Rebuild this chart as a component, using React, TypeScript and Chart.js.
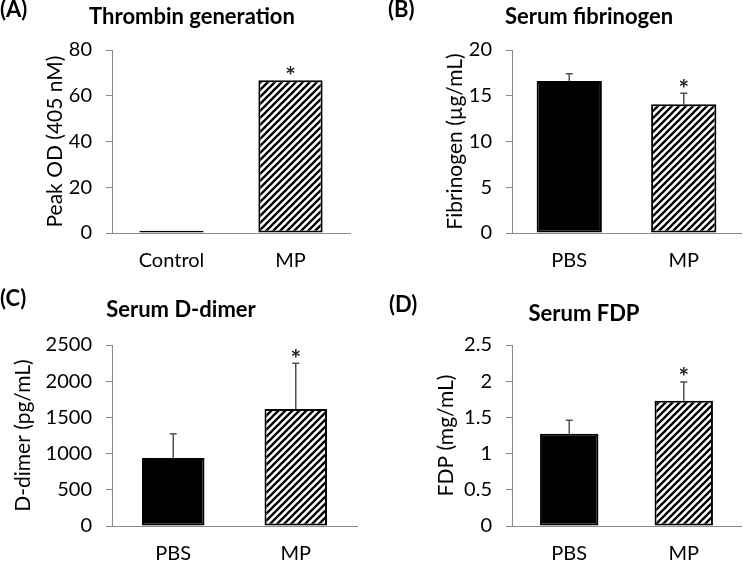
import React, { useEffect, useRef } from 'react';
import { Chart, registerables } from 'chart.js';

Chart.register(...registerables);

// ---------- Data ----------
// (A) Thrombin generation
const thrombinCategories = ['Control', 'MP'];
const thrombinValues = [1.0, 66.8];
const thrombinErrors = [0, 0];
const thrombinMarks = ['', '*'];
const thrombinTicks = [0, 20, 40, 60, 80];

// (B) Serum fibrinogen
const fibrinogenCategories = ['PBS', 'MP'];
const fibrinogenValues = [16.6, 14.07];
const fibrinogenErrors = [0.8, 1.2];
const fibrinogenMarks = ['', '*'];
const fibrinogenTicks = [0, 5, 10, 15, 20];

// (C) Serum D-dimer
const ddimerCategories = ['PBS', 'MP'];
const ddimerValues = [940, 1615];
const ddimerErrors = [335, 633];
const ddimerMarks = ['', '*'];
const ddimerTicks = [0, 500, 1000, 1500, 2000, 2500];

// (D) Serum FDP
const fdpCategories = ['PBS', 'MP'];
const fdpValues = [1.275, 1.73];
const fdpErrors = [0.185, 0.26];
const fdpMarks = ['', '*'];
const fdpTicks = [0, 0.5, 1, 1.5, 2, 2.5];

// ---------- Styling ----------
const FONT = 'Lato, "Open Sans", sans-serif';
const AXIS = '#8a8a8a';
const TEXT = '#000';

type Spec = {
  letter: string;
  title: string;
  yTitle: string;
  categories: string[];
  values: number[];
  errors: number[];
  marks: string[];
  ticks: number[];
  box: { x: number; y: number; w: number; h: number };
  area: { left: number; right: number; top: number; bottom: number };
  barFrac: number;
  letterPos: { x: number; y: number };
  titlePos: { x: number; y: number };
  yTitlePad: number;
};

const specs: Spec[] = [
  {
    letter: '(A)', title: 'Thrombin generation', yTitle: 'Peak OD (405 nM)',
    categories: thrombinCategories, values: thrombinValues, errors: thrombinErrors, marks: thrombinMarks, ticks: thrombinTicks,
    box: { x: 0, y: 0, w: 372, h: 283 },
    area: { left: 112, right: 350, top: 50, bottom: 233 },
    barFrac: 0.54,
    letterPos: { x: 0, y: 17 }, titlePos: { x: 192, y: 24 }, yTitlePad: 43,
  },
  {
    letter: '(B)', title: 'Serum fibrinogen', yTitle: 'Fibrinogen (µg/mL)',
    categories: fibrinogenCategories, values: fibrinogenValues, errors: fibrinogenErrors, marks: fibrinogenMarks, ticks: fibrinogenTicks,
    box: { x: 372, y: 0, w: 371, h: 283 },
    area: { left: 140, right: 369, top: 50, bottom: 233 },
    barFrac: 0.57,
    letterPos: { x: 16, y: 17 }, titlePos: { x: 217, y: 24 }, yTitlePad: 71,
  },
  {
    letter: '(C)', title: 'Serum D-dimer', yTitle: 'D-dimer (pg/mL)',
    categories: ddimerCategories, values: ddimerValues, errors: ddimerErrors, marks: ddimerMarks, ticks: ddimerTicks,
    box: { x: 0, y: 283, w: 372, h: 283 },
    area: { left: 112, right: 357, top: 62, bottom: 243 },
    barFrac: 0.51,
    letterPos: { x: 0, y: 23 }, titlePos: { x: 181, y: 34 }, yTitlePad: 11,
  },
  {
    letter: '(D)', title: 'Serum FDP', yTitle: 'FDP (mg/mL)',
    categories: fdpCategories, values: fdpValues, errors: fdpErrors, marks: fdpMarks, ticks: fdpTicks,
    box: { x: 372, y: 283, w: 371, h: 283 },
    area: { left: 140, right: 369, top: 62, bottom: 243 },
    barFrac: 0.51,
    letterPos: { x: 17, y: 29 }, titlePos: { x: 212, y: 38 }, yTitlePad: 62,
  },
];

function makeHatch(): CanvasPattern | string {
  const s = 7;
  const c = document.createElement('canvas');
  c.width = s;
  c.height = s;
  const g = c.getContext('2d');
  if (!g) return '#000';
  g.fillStyle = '#fff';
  g.fillRect(0, 0, s, s);
  g.strokeStyle = '#000';
  g.lineWidth = 2.3;
  g.beginPath();
  g.moveTo(-1, 1); g.lineTo(1, -1);
  g.moveTo(0, s); g.lineTo(s, 0);
  g.moveTo(s - 1, s + 1); g.lineTo(s + 1, s - 1);
  g.stroke();
  const p = g.createPattern(c, 'repeat');
  return p || '#000';
}

function Panel({ spec }: { spec: Spec }) {
  const ref = useRef<HTMLCanvasElement | null>(null);

  useEffect(() => {
    const canvas = ref.current;
    if (!canvas) return;
    const hatch = makeHatch();
    const { area, box } = spec;

    const annot = {
      id: 'annot',
      afterDatasetsDraw(chart: any) {
        const ctx = chart.ctx as CanvasRenderingContext2D;
        const meta = chart.getDatasetMeta(0);
        const yScale = chart.scales.y;
        ctx.save();
        meta.data.forEach((bar: any, i: number) => {
          const v = spec.values[i];
          const e = spec.errors[i];
          let topY = bar.y;
          if (e > 0) {
            const yTop = yScale.getPixelForValue(v + e);
            ctx.strokeStyle = '#505050';
            ctx.lineWidth = 1.5;
            ctx.beginPath();
            ctx.moveTo(bar.x, bar.y);
            ctx.lineTo(bar.x, yTop);
            ctx.moveTo(bar.x - 3.5, yTop);
            ctx.lineTo(bar.x + 3.5, yTop);
            ctx.stroke();
            topY = yTop;
          }
          const m = spec.marks[i];
          if (m) {
            ctx.font = `bold 25px ${FONT}`;
            ctx.fillStyle = '#222';
            ctx.textAlign = 'center';
            ctx.textBaseline = 'alphabetic';
            const mt = ctx.measureText(m);
            const cy = topY - 10;
            ctx.fillText(m, bar.x, cy + (mt.actualBoundingBoxAscent - mt.actualBoundingBoxDescent) / 2);
          }
        });
        ctx.restore();
      },
      afterDraw(chart: any) {
        const ctx = chart.ctx as CanvasRenderingContext2D;
        ctx.save();
        ctx.fillStyle = '#000';
        ctx.textBaseline = 'alphabetic';
        ctx.font = `bold 22px ${FONT}`;
        ctx.textAlign = 'left';
        ctx.fillText(spec.letter, spec.letterPos.x, spec.letterPos.y);
        ctx.textAlign = 'center';
        ctx.fillText(spec.title, spec.titlePos.x, spec.titlePos.y);
        ctx.restore();
      },
    };

    const ticks = spec.ticks;
    const chart = new Chart(canvas, {
      type: 'bar',
      data: {
        labels: spec.categories,
        datasets: [
          {
            data: spec.values,
            backgroundColor: ['#000', hatch as any],
            borderColor: '#000',
            borderWidth: 2,
            borderSkipped: false,
            categoryPercentage: 1,
            barPercentage: spec.barFrac,
          },
        ],
      },
      options: {
        animation: false,
        responsive: false,
        maintainAspectRatio: false,
        devicePixelRatio: 1,
        events: [],
        layout: { padding: { left: 0, top: area.top, right: box.w - area.right, bottom: 0 } },
        plugins: {
          legend: { display: false },
          tooltip: { enabled: false },
          title: { display: false },
        },
        scales: {
          x: {
            type: 'category',
            offset: true,
            grid: { display: false, drawTicks: false },
            border: { display: true, color: AXIS, width: 1 },
            ticks: {
              color: TEXT,
              font: { family: FONT, size: 20 },
              padding: 16,
              maxRotation: 0,
              autoSkip: false,
            },
            afterFit: (s: any) => { s.height = box.h - area.bottom; },
          },
          y: {
            type: 'linear',
            min: ticks[0],
            max: ticks[ticks.length - 1],
            grid: { display: true, drawOnChartArea: false, drawTicks: true, tickLength: 6, color: AXIS },
            border: { display: true, color: AXIS, width: 1 },
            ticks: {
              stepSize: ticks[1] - ticks[0],
              callback: (v: any) => String(v),
              color: TEXT,
              font: { family: FONT, size: 20 },
              padding: 14,
            },
            title: {
              display: true,
              text: spec.yTitle,
              color: TEXT,
              font: { family: FONT, size: 21 },
              padding: { top: spec.yTitlePad, bottom: 0 },
            },
            afterFit: (s: any) => { s.width = area.left; },
          },
        },
      },
      plugins: [annot],
    } as any);

    return () => chart.destroy();
  }, [spec]);

  return (
    <canvas
      ref={ref}
      width={spec.box.w}
      height={spec.box.h}
      style={{ position: 'absolute', left: spec.box.x, top: spec.box.y, width: spec.box.w, height: spec.box.h, display: 'block' }}
    />
  );
}

export default function App() {
  return (
    <div style={{ position: 'absolute', left: 0, top: 0, width: 743, height: 566, background: '#fff', overflow: 'hidden' }}>
      {specs.map((s) => (
        <Panel key={s.letter} spec={s} />
      ))}
    </div>
  );
}
